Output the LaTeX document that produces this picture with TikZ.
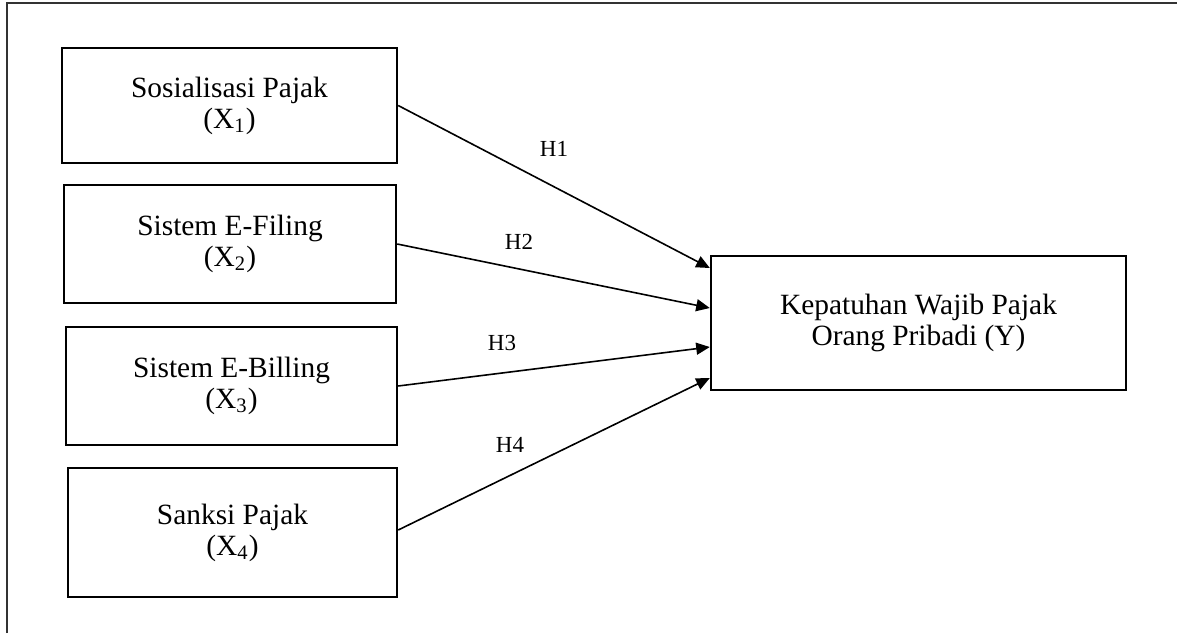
\documentclass[tikz,border=0pt]{standalone}
\usepackage{fontspec}
\setmainfont{Liberation Serif}
\usetikzlibrary{arrows.meta,calc}
\begin{document}
\begin{tikzpicture}[x=0.5pt,y=-0.5pt,
  box/.style={draw,line width=1.2pt,align=center,font=\fontsize{14.7}{15.5}\selectfont,inner sep=0pt},
  arr/.style={line width=0.8pt,-{Triangle[length=6.8pt,width=6pt]}},
  hlab/.style={font=\fontsize{11.5}{14}\selectfont,inner sep=0pt}]
\useasboundingbox (0,0) rectangle (1177,633);
\draw[line width=1pt,draw=black!80] (7,633) -- (7,3) -- (1177,3);
\node[box,minimum width=335*0.5pt,minimum height=115*0.5pt] (b1) at (229.5,105.5) {Sosialisasi Pajak\\(X\textsubscript{1})};
\node[box,minimum width=332*0.5pt,minimum height=118*0.5pt] (b2) at (230,244) {Sistem E-Filing\\(X\textsubscript{2})};
\node[box,minimum width=331*0.5pt,minimum height=118*0.5pt] (b3) at (231.5,386) {Sistem E-Billing\\(X\textsubscript{3})};
\node[box,minimum width=329*0.5pt,minimum height=129*0.5pt] (b4) at (232.5,532.5) {Sanksi Pajak\\(X\textsubscript{4})};
\node[box,minimum width=415*0.5pt,minimum height=134*0.5pt] (y) at (918.5,323) {Kepatuhan Wajib Pajak\\Orang Pribadi (Y)};
\coordinate (e1) at ($(y.west)+(0,-55)$);
\coordinate (e2) at ($(y.west)+(0,-15)$);
\coordinate (e3) at ($(y.west)+(0,24)$);
\coordinate (e4) at ($(y.west)+(0,55)$);
\draw[arr] (b1.east) -- (e1);
\draw[arr] (b2.east) -- (e2);
\draw[arr] (b3.east) -- (e3);
\draw[arr] ($(b4.east)+(0,-2.5)$) -- (e4);
\node[hlab] (h1) at (554,149) {H1};
\node[hlab] (h2) at (519,242) {H2};
\node[hlab] (h3) at (502,343) {H3};
\node[hlab] (h4) at (510,445) {H4};
\end{tikzpicture}
\end{document}
